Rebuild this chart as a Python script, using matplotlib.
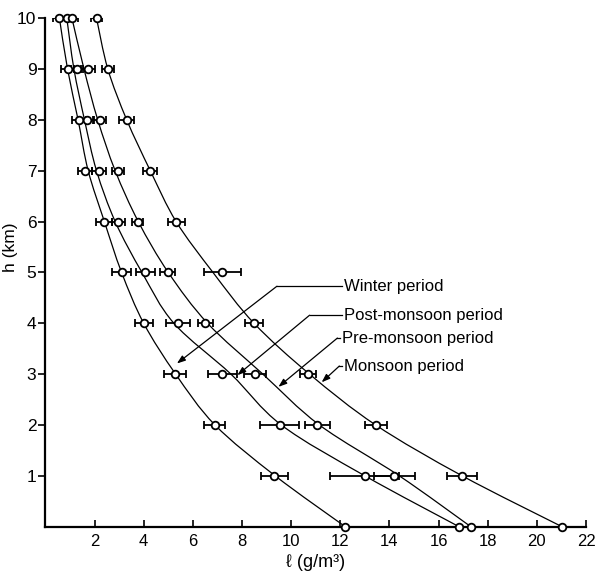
import numpy as np
import matplotlib
matplotlib.use("Agg")
import matplotlib.pyplot as plt
from matplotlib.path import Path
from matplotlib.patches import PathPatch

# ---- data ----
heights = [0, 1, 2, 3, 4, 5, 6, 7, 8, 9, 10]

# measured points (circles)
winter_pts = [12.2, 9.32, 6.88, 5.28, 4.02, 3.10, 2.37, 1.61, 1.35, 0.90, 0.57]
post_pts = [16.83, 12.99, 9.53, 7.20, 5.40, 4.07, 2.97, 2.19, 1.68, 1.27, 0.87]
pre_pts = [17.31, 14.20, 11.06, 8.54, 6.51, 4.98, 3.75, 2.95, 2.23, 1.73, 1.08]
monsoon_pts = [21.02, 16.96, 13.44, 10.69, 8.49, 7.20, 5.32, 4.27, 3.31, 2.54, 2.08]

# horizontal error (half widths)
winter_err = [0, 0.54, 0.42, 0.44, 0.37, 0.40, 0.32, 0.30, 0.28, 0.25, 0.25]
post_err = [0, 1.40, 0.80, 0.60, 0.50, 0.39, 0.28, 0.28, 0.26, 0.25, 0.25]
pre_err = [0, 0.83, 0.50, 0.45, 0.32, 0.30, 0.24, 0.25, 0.25, 0.28, 0.25]
monsoon_err = [0, 0.60, 0.44, 0.33, 0.38, 0.75, 0.35, 0.29, 0.30, 0.24, 0.22]

# fitted curves (read where each curve crosses integer heights)
winter_curve = [12.2, 9.35, 6.90, 5.30, 4.00, 3.10, 2.40, 1.74, 1.33, 0.90, 0.57]
post_curve = [16.83, 13.0, 9.60, 7.55, 5.23, 3.93, 2.84, 2.08, 1.59, 1.16, 0.87]
pre_curve = [17.31, 14.4, 11.15, 8.85, 6.60, 5.00, 3.78, 2.84, 2.13, 1.57, 1.08]
monsoon_curve = [21.02, 16.96, 13.44, 10.75, 8.49, 6.82, 5.32, 4.27, 3.31, 2.54, 2.08]

labels = ["Winter period", "Post-monsoon period", "Pre-monsoon period", "Monsoon period"]

x_ticks = [2, 4, 6, 8, 10, 12, 14, 16, 18, 20, 22]
y_ticks = [1, 2, 3, 4, 5, 6, 7, 8, 9, 10]

plt.rcParams['font.family'] = ['Liberation Sans', 'DejaVu Sans']

fig = plt.figure(figsize=(5.98, 5.78), dpi=100)
ax = fig.add_axes([0.0760, 0.0888, 0.9040, 0.8795])
ax.set_xlim(0, 22)
ax.set_ylim(0, 10)


def smooth_path(xs, ys):
    pts = np.column_stack([xs, ys])
    n = len(pts)
    verts = [pts[0]]
    codes = [Path.MOVETO]
    for i in range(n - 1):
        p0 = pts[i - 1] if i > 0 else pts[i]
        p1 = pts[i]
        p2 = pts[i + 1]
        p3 = pts[i + 2] if i + 2 < n else pts[i + 1]
        c1 = p1 + (p2 - p0) / 6.0
        c2 = p2 - (p3 - p1) / 6.0
        verts += [c1, c2, p2]
        codes += [Path.CURVE4] * 3
    return Path(verts, codes)


for curve in [winter_curve, post_curve, pre_curve, monsoon_curve]:
    patch = PathPatch(smooth_path(curve, heights), facecolor='none',
                      edgecolor='black', lw=0.9, transform=ax.transData, zorder=2)
    ax.add_patch(patch)

for pts, err in [(winter_pts, winter_err), (post_pts, post_err),
                 (pre_pts, pre_err), (monsoon_pts, monsoon_err)]:
    ax.errorbar(pts[1:], heights[1:], xerr=err[1:], fmt='none', ecolor='black',
                elinewidth=1.3, capsize=3, capthick=1.3, zorder=3)
    ax.plot(pts, heights, linestyle='none', marker='o', ms=5.5, mfc='white',
            mec='black', mew=1.3, zorder=4, clip_on=False)

# annotations (text start, corner, arrow tip in data coords)
ann = [
    (labels[0], (12.08, 4.73), (9.42, 4.73), (5.35, 3.21)),
    (labels[1], (12.08, 4.16), (10.75, 4.16), (7.81, 2.98)),
    (labels[2], (12.0, 3.71), (11.88, 3.71), (9.48, 2.75)),
    (labels[3], (12.08, 3.16), (11.96, 3.16), (11.24, 2.84)),
]
for text, tpos, corner, tip in ann:
    ax.text(tpos[0] + 0.08, tpos[1], text, fontsize=12, va='center', ha='left')
    ax.plot([tpos[0], corner[0]], [tpos[1], corner[1]], color='black', lw=0.9)
    ax.annotate('', xy=tip, xytext=corner,
                arrowprops=dict(arrowstyle='-|>,head_length=0.5,head_width=0.18',
                                color='black', lw=0.9, shrinkA=0, shrinkB=0))

for s in ['top', 'right']:
    ax.spines[s].set_visible(False)
for s in ['left', 'bottom']:
    ax.spines[s].set_linewidth(1.6)

ax.set_xticks(x_ticks)
ax.set_yticks(y_ticks)
ax.tick_params(axis='x', direction='in', length=5, width=1.2, labelsize=12, pad=5)
ax.tick_params(axis='y', direction='out', length=5, width=1.2, labelsize=12.5, pad=1.5)

ax.set_xlabel('ℓ (g/m³)', fontsize=13, labelpad=4)
ax.set_ylabel('h (km)', fontsize=12.5)
ax.yaxis.set_label_coords(-0.050, 0.55)

fig.savefig('out.png', dpi=100)
